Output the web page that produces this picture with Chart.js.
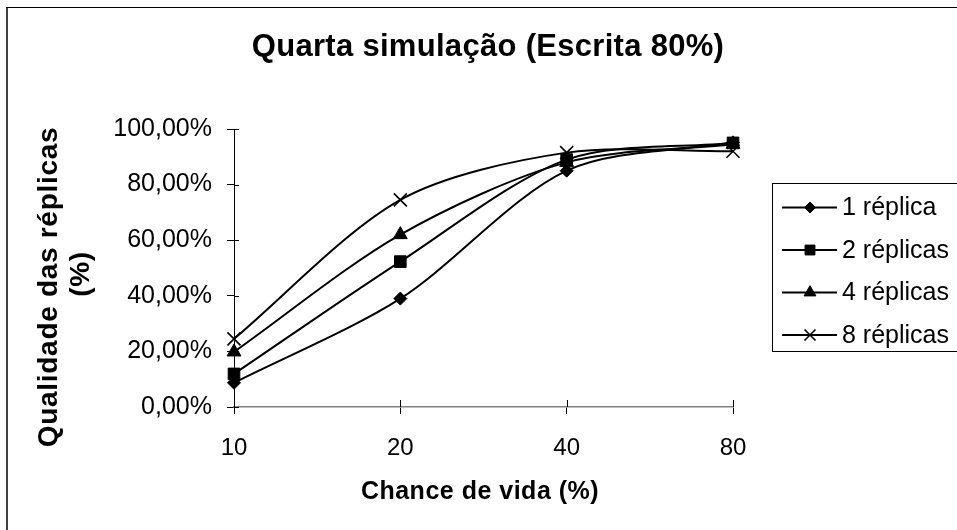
<!DOCTYPE html>
<html>
<head>
<meta charset="utf-8">
<script src="https://cdn.jsdelivr.net/npm/chart.js"></script>
<style>
  html, body { margin: 0; padding: 0; background: #fff; }
  canvas { display: block; }
</style>
</head>
<body>
<canvas id="c" width="957" height="530"></canvas>
<script>
// Chance de vida (%) categories and replica quality (%) per replication level
const categories = ['10', '20', '40', '80'];
const replica1 = [8.7, 39, 85, 95.2];
const replica2 = [11.9, 52.3, 89, 95];
const replica4 = [19.8, 62, 88, 94.5];
const replica8 = [24.5, 74.5, 91.5, 92];
const seriesNames = ['1 réplica', '2 réplicas', '4 réplicas', '8 réplicas'];
const yTicks = [0, 20, 40, 60, 80, 100];

const titleText = 'Quarta simulação (Escrita 80%)';
const xTitle = 'Chance de vida (%)';
const yTitle = ['Qualidade das réplicas', '(%)'];

const FONT = '"Liberation Sans", Arial, sans-serif';

const styles = [
  { pointStyle: 'rectRot', radius: 6.5 },
  { pointStyle: 'rect', radius: 8.2 },
  { pointStyle: 'triangle', radius: 8 },
  { pointStyle: 'crossRot', radius: 9.2 }
];

function makeSet(label, data, s) {
  return {
    label, data,
    borderColor: '#000',
    backgroundColor: '#000',
    borderWidth: 2,
    tension: 0.3,
    pointStyle: s.pointStyle,
    pointRadius: s.radius,
    pointHoverRadius: s.radius,
    pointBorderWidth: s.pointStyle === 'crossRot' ? 1.6 : 1,
    pointBackgroundColor: '#000',
    pointBorderColor: '#000'
  };
}

// small marker painter used for the legend keys
function marker(ctx, style, r, x, y) {
  ctx.save();
  ctx.fillStyle = '#000';
  ctx.strokeStyle = '#000';
  ctx.lineWidth = style === 'crossRot' ? 1.6 : 1;
  ctx.beginPath();
  if (style === 'rectRot') {
    ctx.moveTo(x, y - r); ctx.lineTo(x + r, y); ctx.lineTo(x, y + r); ctx.lineTo(x - r, y); ctx.closePath();
    ctx.fill(); ctx.stroke();
  } else if (style === 'rect') {
    const s = Math.SQRT1_2 * r;
    ctx.rect(x - s, y - s, 2 * s, 2 * s); ctx.fill(); ctx.stroke();
  } else if (style === 'triangle') {
    const h = Math.cos(Math.PI / 6) * r;
    ctx.moveTo(x, y - r);
    ctx.lineTo(x + h, y + r / 2);
    ctx.lineTo(x - h, y + r / 2);
    ctx.closePath(); ctx.fill(); ctx.stroke();
  } else {
    const d = Math.SQRT1_2 * r;
    ctx.moveTo(x - d, y - d); ctx.lineTo(x + d, y + d);
    ctx.moveTo(x + d, y - d); ctx.lineTo(x - d, y + d);
    ctx.stroke();
  }
  ctx.restore();
}

const decor = {
  id: 'decor',
  beforeDraw(chart) {
    const ctx = chart.ctx;
    ctx.save();
    ctx.fillStyle = '#fff';
    ctx.fillRect(0, 0, chart.width, chart.height);
    // frame of the chart object
    ctx.fillStyle = '#404040';
    ctx.fillRect(6, 7, 2, chart.height - 7);
    ctx.fillStyle = '#000';
    ctx.fillRect(6, 7, chart.width - 6, 1);
    ctx.restore();
  },
  afterDraw(chart) {
    const ctx = chart.ctx;
    const area = chart.chartArea;
    const xs = chart.scales.x, ys = chart.scales.y;
    ctx.save();
    // inner halves of the cross tick marks
    ctx.strokeStyle = '#000';
    ctx.lineWidth = 1;
    ys.ticks.forEach((t, i) => {
      const py = Math.round(ys.getPixelForTick(i)) + 0.5;
      ctx.beginPath(); ctx.moveTo(area.left, py); ctx.lineTo(area.left + 5, py); ctx.stroke();
    });
    xs.ticks.forEach((t, i) => {
      const px = Math.round(xs.getPixelForTick(i)) + 0.5;
      ctx.beginPath(); ctx.moveTo(px, area.bottom); ctx.lineTo(px, area.bottom - 7); ctx.stroke();
    });

    ctx.fillStyle = '#000';
    ctx.textAlign = 'center';
    ctx.textBaseline = 'middle';
    // title
    ctx.font = 'bold 31px ' + FONT;
    ctx.letterSpacing = '0.3px';
    ctx.fillText(titleText, 488, 47);
    // x axis title
    ctx.font = 'bold 25px ' + FONT;
    ctx.letterSpacing = '0.5px';
    ctx.fillText(xTitle, 480, 492);
    // y axis title, two rotated lines
    ctx.font = 'bold 28px ' + FONT;
    ctx.letterSpacing = '0.7px';
    ctx.save();
    ctx.translate(49, 287);
    ctx.rotate(-Math.PI / 2);
    ctx.fillText(yTitle[0], 0, 0);
    ctx.restore();
    ctx.save();
    ctx.translate(81, 274);
    ctx.rotate(-Math.PI / 2);
    ctx.fillText(yTitle[1], 0, 0);
    ctx.restore();
    ctx.letterSpacing = '0px';

    // legend box
    ctx.strokeStyle = '#000';
    ctx.lineWidth = 1;
    ctx.strokeRect(772.5, 183.5, 200, 168);
    ctx.font = '25px ' + FONT;
    ctx.textAlign = 'left';
    chart.data.datasets.forEach((ds, i) => {
      const y = 207.5 + i * 42.5;
      ctx.lineWidth = 2;
      ctx.beginPath(); ctx.moveTo(782, y); ctx.lineTo(837, y); ctx.stroke();
      marker(ctx, styles[i].pointStyle, styles[i].radius * 0.85, 810, y);
      ctx.fillText(ds.label, 842, y + 1);
    });
    ctx.restore();
  }
};

new Chart(document.getElementById('c'), {
  type: 'line',
  data: {
    labels: categories,
    datasets: [
      makeSet(seriesNames[0], replica1, styles[0]),
      makeSet(seriesNames[1], replica2, styles[1]),
      makeSet(seriesNames[2], replica4, styles[2]),
      makeSet(seriesNames[3], replica8, styles[3])
    ]
  },
  options: {
    responsive: false,
    animation: false,
    devicePixelRatio: 1,
    layout: { padding: { left: 0, top: 129, right: 224, bottom: 43 } },
    plugins: { legend: { display: false }, title: { display: false }, tooltip: { enabled: false } },
    scales: {
      x: {
        type: 'category',
        offset: false,
        afterFit: s => { s.height = 80; },
        grid: { display: true, drawOnChartArea: false, drawTicks: true, tickLength: 7, color: '#000', offset: false },
        border: { display: true, color: '#808080', width: 1.5 },
        ticks: { color: '#000', padding: 20, maxRotation: 0, font: { family: FONT, size: 24 } }
      },
      y: {
        min: 0, max: 100,
        afterFit: s => { s.width = 234; },
        afterBuildTicks: s => { s.ticks = yTicks.map(v => ({ value: v })); },
        grid: { display: true, drawOnChartArea: false, drawTicks: true, tickLength: 7, color: '#000' },
        border: { display: true, color: '#000', width: 1 },
        ticks: {
          color: '#000', padding: 15,
          font: { family: FONT, size: 25 },
          callback: v => v.toFixed(2).replace('.', ',') + '%'
        }
      }
    }
  },
  plugins: [decor]
});
</script>
</body>
</html>
